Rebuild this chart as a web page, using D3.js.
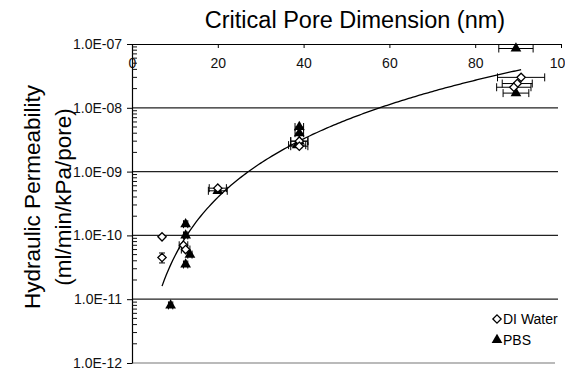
<!DOCTYPE html>
<html>
<head>
<script src="https://d3js.org/d3.v7.min.js"></script>
<title>Hydraulic permeability vs pore size</title>
<style>
body { margin: 0; background: #fff; }
svg { font-family: "Liberation Sans", Arial, sans-serif; }
</style>
</head>
<body>
<svg id="root" width="565" height="369"></svg>
<script>
// DI water (open diamonds)
let diX    = [7, 7, 12, 12.5, 20, 39, 39, 90.7, 89.8, 89]
let diY    = [9.5e-11, 4.5e-11, 7e-11, 6e-11, 5.5e-10, 3e-9, 2.5e-9, 3.0e-8, 2.4e-8, 2.1e-8]
let diXErr = [0, 0, 1, 1, 2, 2, 2, 5.5, 3.5, 4]
let diYErr = [0, 0.8e-11, 0, 0, 0, 0, 0, 0, 0, 0]

// PBS (filled triangles)
let pbsX    = [89.5, 89.5, 12.5, 12.5, 13.5, 12.5, 9, 20, 39, 39, 39, 38.5]
let pbsY    = [8.5e-8, 1.7e-8, 1.5e-10, 1.0e-10, 5e-11, 3.5e-11, 8e-12, 5e-10, 5e-9, 4e-9, 3e-9, 2.6e-9]
let pbsXErr = [4, 3, 0.5, 0.5, 0.5, 0.5, 0.5, 2.2, 1, 1, 2, 2]

// power-law trend line y = a * x^b
let fitA = 4.24e-14, fitB = 3.05
let fitRange = [7, 90.7]

let xTicks = [0, 20, 40, 60, 80, 100]
let yTicks = [1e-7, 1e-8, 1e-9, 1e-10, 1e-11, 1e-12]

let svg = d3.select('#root')
let x = d3.scaleLinear().domain([0, 100]).range([132, 561])
let y = d3.scaleLog().domain([1e-12, 1e-7]).range([363, 44])

// gridlines
svg.append('g').selectAll('line').data(yTicks.slice(1)).enter().append('line')
	.attr('x1', 132).attr('x2', d => d == 1e-12 ? 555 : 558)
	.attr('y1', d => y(d)).attr('y2', d => y(d))
	.attr('stroke', d => d == 1e-12 ? '#777' : '#222').attr('stroke-width', 1.2)

// x axis on top, ticks inside
let xAxis = svg.append('g').attr('transform', 'translate(0,' + y(1e-7) + ')')
	.call(d3.axisBottom(x).tickValues(xTicks).tickSize(4).tickSizeOuter(0).tickPadding(10))
xAxis.select('.domain').attr('stroke-width', 1.2)
xAxis.selectAll('text').attr('font-size', 14).attr('fill', '#111').attr('font-family', null)

// y axis
let yAxis = svg.append('g').attr('transform', 'translate(132,0)')
	.call(d3.axisLeft(y).tickValues(yTicks).tickSize(5).tickSizeOuter(0).tickPadding(5)
		.tickFormat(d => '1.0E-' + String(-Math.round(Math.log10(d))).padStart(2, '0')))
yAxis.select('.domain').attr('stroke-width', 1.2)
yAxis.selectAll('text').attr('font-size', 14).attr('fill', '#111').attr('font-family', null)

// minor log ticks, inside
let minor = []
for (let e = -12; e < -7; e++)
	for (let m = 2; m <= 9; m++) minor.push(m * Math.pow(10, e))
svg.append('g').selectAll('line').data(minor).enter().append('line')
	.attr('x1', 132).attr('x2', 137)
	.attr('y1', d => y(d)).attr('y2', d => y(d))
	.attr('stroke', '#111').attr('stroke-width', 1)

// trend line
let fitPts = d3.range(fitRange[0], fitRange[1], 0.5).concat([fitRange[1]])
svg.append('path')
	.attr('d', d3.line().x(d => x(d)).y(d => y(fitA * Math.pow(d, fitB)))(fitPts))
	.attr('fill', 'none').attr('stroke', '#000').attr('stroke-width', 1.3)

function errorBars(g, xs, ys, xe, ye)
{
	let data = xs.map((v, i) => ({x: v, y: ys[i], xe: xe[i], ye: ye[i]}))
	let eb = g.selectAll('.eb').data(data).enter().append('g').attr('class', 'eb')
		.attr('stroke', '#000').attr('stroke-width', 1)
	eb.filter(d => d.xe > 0).each(function(d) {
		let s = d3.select(this)
		s.append('line').attr('x1', x(d.x - d.xe)).attr('x2', x(d.x + d.xe)).attr('y1', y(d.y)).attr('y2', y(d.y))
		s.append('line').attr('x1', x(d.x - d.xe)).attr('x2', x(d.x - d.xe)).attr('y1', y(d.y) - 4).attr('y2', y(d.y) + 4)
		s.append('line').attr('x1', x(d.x + d.xe)).attr('x2', x(d.x + d.xe)).attr('y1', y(d.y) - 4).attr('y2', y(d.y) + 4)
	})
	eb.filter(d => d.ye > 0).each(function(d) {
		let s = d3.select(this)
		s.append('line').attr('x1', x(d.x)).attr('x2', x(d.x)).attr('y1', y(d.y - d.ye)).attr('y2', y(d.y + d.ye))
		s.append('line').attr('x1', x(d.x) - 3).attr('x2', x(d.x) + 3).attr('y1', y(d.y - d.ye)).attr('y2', y(d.y - d.ye))
		s.append('line').attr('x1', x(d.x) - 3).attr('x2', x(d.x) + 3).attr('y1', y(d.y + d.ye)).attr('y2', y(d.y + d.ye))
	})
}

let diamond = d3.symbol().type(d3.symbolDiamond2).size(44)
let triangle = d3.symbol().type(d3.symbolTriangle).size(50)

let gPbs = svg.append('g')
errorBars(gPbs, pbsX, pbsY, pbsXErr, pbsX.map(() => 0))
gPbs.selectAll('.pt').data(pbsX).enter().append('path').attr('class', 'pt')
	.attr('d', triangle)
	.attr('transform', (d, i) => 'translate(' + x(d) + ',' + y(pbsY[i]) + ')')
	.attr('fill', '#000')

let gDi = svg.append('g')
errorBars(gDi, diX, diY, diXErr, diYErr)
gDi.selectAll('.pt').data(diX).enter().append('path').attr('class', 'pt')
	.attr('d', diamond)
	.attr('transform', (d, i) => 'translate(' + x(d) + ',' + y(diY[i]) + ')')
	.attr('fill', '#fff').attr('stroke', '#000').attr('stroke-width', 1.3)

// legend
let legend = svg.append('g').attr('transform', 'translate(497,319)')
legend.append('path').attr('d', diamond).attr('fill', '#fff').attr('stroke', '#000').attr('stroke-width', 1.3)
legend.append('text').attr('x', 6).attr('y', 5).attr('font-size', 14).text('DI Water')
legend.append('path').attr('d', triangle).attr('transform', 'translate(0,21)').attr('fill', '#000')
legend.append('text').attr('x', 6).attr('y', 26).attr('font-size', 14).text('PBS')

// titles
svg.append('text').attr('x', 355).attr('y', 28).attr('text-anchor', 'middle')
	.attr('font-size', 23.5).text('Critical Pore Dimension (nm)')
let yl = svg.append('text').attr('transform', 'translate(40,197) rotate(-90)')
	.attr('text-anchor', 'middle').attr('font-size', 22.5)
yl.append('tspan').attr('x', 0).attr('y', 0).text('Hydraulic Permeability')
yl.append('tspan').attr('x', 0).attr('y', 31).text('(ml/min/kPa/pore)')
</script>
</body>
</html>
